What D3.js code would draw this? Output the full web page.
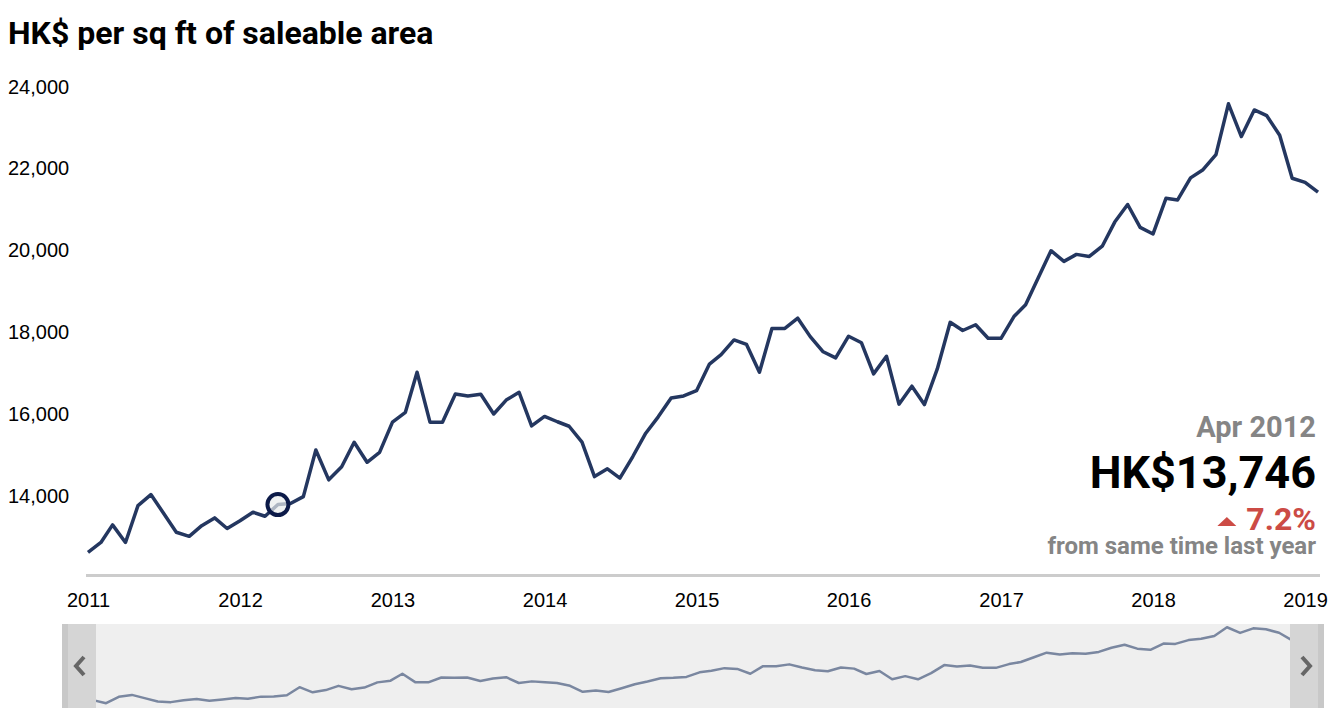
<!DOCTYPE html>
<html lang="en">
	<head>
		<meta charset="utf-8">
		<title>HK$ per sq ft of saleable area</title>
		<script src="https://d3js.org/d3.v7.min.js"></script>
		<style type="text/css">
			body {
				margin: 0;
				background: #fff;
			}
			.axis text {
				font-family: "Liberation Sans", Arial, sans-serif;
				font-size: 20px;
				fill: #000;
			}
		</style>
	</head>
	<body>
		<script type="text/javascript">

			//Data: monthly price, Jan 2011 onwards
			var startMonth = new Date(2011, 0, 1);
			var values = [
				12580, 12820, 13250, 12820, 13720, 13990, 13540, 13070, 12970, 13230, 13420, 13160,
				13350, 13560, 13460, 13746, 13770, 13940, 15080, 14350, 14670, 15270, 14780, 15020,
				15760, 16000, 16980, 15760, 15760, 16450, 16400, 16440, 15960, 16300, 16490, 15670,
				15900, 15770, 15660, 15270, 14430, 14620, 14390, 14920, 15490, 15890, 16350, 16400,
				16530, 17180, 17410, 17770, 17660, 16980, 18050, 18050, 18300, 17850, 17480, 17330,
				17860, 17700, 16940, 17370, 16200, 16640, 16190, 17060, 18200, 18000, 18140, 17810,
				17810, 18340, 18630, 19300, 19950, 19690, 19860, 19810, 20060, 20650, 21080, 20520,
				20360, 21230, 21190, 21730, 21930, 22300, 23540, 22740, 23390, 23250, 22770, 21720,
				21620, 21380
			];
			var yTicks = [14000, 16000, 18000, 20000, 22000, 24000];
			var xTicks = [2011, 2012, 2013, 2014, 2015, 2016, 2017, 2018, 2019];
			var highlightIndex = 15; // Apr 2012

			var dataset = values.map(function(v, i) {
				return { date: d3.timeMonth.offset(startMonth, i), value: v };
			});

			//Width and height
			var w = 1334;
			var h = 718;

			//Scales
			var xScale = d3.scaleTime()
					.domain([startMonth, dataset[dataset.length - 1].date])
					.range([88, 1318]);

			var yScale = d3.scaleLinear()
					.domain([12000, 24000])
					.range([576, 85]);

			var xMini = d3.scaleTime()
					.domain(xScale.domain())
					.range([68, 1318]);

			var yMini = d3.scaleLinear()
					.domain([12000, 24000])
					.range([709, 624]);

			//Create SVG element
			var svg = d3.select("body")
						.append("svg")
						.attr("width", w)
						.attr("height", h);

			//Title
			svg.append("text")
				.attr("x", 8)
				.attr("y", 44)
				.attr("font-family", "Roboto, sans-serif")
				.attr("font-weight", "bold")
				.attr("font-size", "32px")
				.attr("fill", "#000")
				.text("HK$ per sq ft of saleable area");

			//Y axis (labels only)
			svg.append("g")
				.attr("class", "axis")
				.attr("transform", "translate(8,0)")
				.call(d3.axisRight(yScale)
					.tickValues(yTicks)
					.tickSize(0)
					.tickPadding(0)
					.tickFormat(d3.format(",")))
				.call(function(g) { g.select(".domain").remove(); })
				.selectAll("text")
				.attr("dy", "0.4em");

			//X axis
			var xAxisG = svg.append("g")
				.attr("class", "axis")
				.attr("transform", "translate(0,575.5)")
				.call(d3.axisBottom(xScale)
					.tickValues(xTicks.map(function(y) { return new Date(y, 0, 1); }))
					.tickSize(0)
					.tickPadding(17)
					.tickFormat(d3.timeFormat("%Y")));
			xAxisG.select(".domain")
				.attr("stroke", "#cccccc")
				.attr("stroke-width", 3)
				.attr("d", "M86,0H1320");

			//Line
			var line = d3.line()
				.x(function(d) { return xScale(d.date); })
				.y(function(d) { return yScale(d.value); });

			svg.append("path")
				.datum(dataset)
				.attr("d", line)
				.attr("fill", "none")
				.attr("stroke", "#243760")
				.attr("stroke-width", 3.5)
				.attr("stroke-linejoin", "round");

			//Highlight circle
			var hl = dataset[highlightIndex];
			svg.append("circle")
				.attr("cx", xScale(hl.date))
				.attr("cy", yScale(hl.value))
				.attr("r", 10.5)
				.attr("fill", "#e9eded")
				.attr("fill-opacity", 0.7)
				.attr("stroke", "#0c1a48")
				.attr("stroke-width", 4);

			//Annotation
			var prev = dataset[highlightIndex - 12];
			var change = (hl.value / prev.value - 1) * 100;
			var ann = svg.append("g")
				.attr("font-family", "Roboto, sans-serif")
				.attr("font-weight", "bold")
				.attr("text-anchor", "end");

			ann.append("text")
				.attr("x", 1316)
				.attr("y", 437)
				.attr("font-size", "29px")
				.attr("fill", "#858585")
				.text(d3.timeFormat("%b %Y")(hl.date));

			ann.append("text")
				.attr("x", 1316)
				.attr("y", 488)
				.attr("font-size", "45px")
				.attr("fill", "#000")
				.text("HK$" + d3.format(",")(hl.value));

			var pct = ann.append("text")
				.attr("x", 1316)
				.attr("y", 530)
				.attr("font-size", "32px")
				.attr("fill", "#cc4b45")
				.text(d3.format(".1f")(Math.abs(change)) + "%");

			var pctBox = pct.node().getBBox();
			var tx = pctBox.x - 29;
			svg.append("path")
				.attr("d", "M" + tx + ",526L" + (tx + 9.5) + ",517L" + (tx + 19) + ",526Z")
				.attr("fill", "#cc4b45");

			ann.append("text")
				.attr("x", 1316)
				.attr("y", 554)
				.attr("font-size", "24px")
				.attr("fill", "#858585")
				.text("from same time last year");

			//Navigator
			var nav = svg.append("g");
			nav.append("rect")
				.attr("x", 62)
				.attr("y", 624)
				.attr("width", 1262)
				.attr("height", 84)
				.attr("fill", "#efefef");

			var miniLine = d3.line()
				.x(function(d) { return xMini(d.date); })
				.y(function(d) { return yMini(d.value); });

			nav.append("path")
				.datum(dataset)
				.attr("d", miniLine)
				.attr("fill", "none")
				.attr("stroke", "#7a87a0")
				.attr("stroke-width", 2.5)
				.attr("stroke-linejoin", "round");

			//Handles
			nav.append("rect").attr("x", 62).attr("y", 624).attr("width", 34).attr("height", 84).attr("fill", "#d5d5d5");
			nav.append("rect").attr("x", 62).attr("y", 624).attr("width", 6).attr("height", 84).attr("fill", "#c8c8c8");
			nav.append("rect").attr("x", 1290).attr("y", 624).attr("width", 34).attr("height", 84).attr("fill", "#d5d5d5");
			nav.append("rect").attr("x", 1318).attr("y", 624).attr("width", 6).attr("height", 84).attr("fill", "#c8c8c8");

			nav.append("path")
				.attr("d", "M84,657L76,666L84,675")
				.attr("fill", "none")
				.attr("stroke", "#666")
				.attr("stroke-width", 4);
			nav.append("path")
				.attr("d", "M1302,657L1310,666L1302,675")
				.attr("fill", "none")
				.attr("stroke", "#666")
				.attr("stroke-width", 4);

		</script>
	</body>
</html>
